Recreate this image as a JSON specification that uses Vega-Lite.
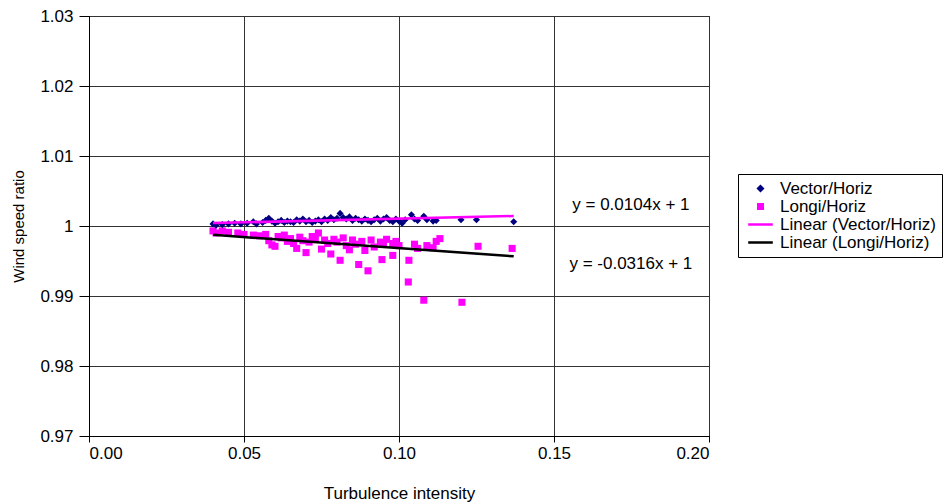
{
  "$schema": "https://vega.github.io/schema/vega-lite/v6.json",
  "width": 620,
  "height": 420,
  "autosize": "none",
  "padding": {"left": 89, "top": 16, "right": 239, "bottom": 68},
  "background": "white",
  "config": {
    "font": "Liberation Sans",
    "view": {"stroke": "black", "strokeWidth": 1},
    "axis": {"labelFont": "Liberation Sans", "titleFont": "Liberation Sans", "labelFontSize": 17, "titleFontSize": 17, "titleFontWeight": "normal", "labelColor": "black", "titleColor": "black", "domainColor": "black", "tickColor": "black", "gridColor": "#333333", "gridWidth": 1, "grid": true}
  },
  "datasets": {
    "points": [
      {"series": "Longi/Horiz", "ti": 0.040, "ratio": 0.9993},
      {"series": "Longi/Horiz", "ti": 0.041, "ratio": 0.9990},
      {"series": "Longi/Horiz", "ti": 0.043, "ratio": 0.9993},
      {"series": "Longi/Horiz", "ti": 0.045, "ratio": 0.9991},
      {"series": "Longi/Horiz", "ti": 0.048, "ratio": 0.9990},
      {"series": "Longi/Horiz", "ti": 0.050, "ratio": 0.9988},
      {"series": "Longi/Horiz", "ti": 0.053, "ratio": 0.9987},
      {"series": "Longi/Horiz", "ti": 0.055, "ratio": 0.9986},
      {"series": "Longi/Horiz", "ti": 0.057, "ratio": 0.9988},
      {"series": "Longi/Horiz", "ti": 0.058, "ratio": 0.9979},
      {"series": "Longi/Horiz", "ti": 0.059, "ratio": 0.9973},
      {"series": "Longi/Horiz", "ti": 0.060, "ratio": 0.9971},
      {"series": "Longi/Horiz", "ti": 0.061, "ratio": 0.9985},
      {"series": "Longi/Horiz", "ti": 0.062, "ratio": 0.9983},
      {"series": "Longi/Horiz", "ti": 0.063, "ratio": 0.9987},
      {"series": "Longi/Horiz", "ti": 0.064, "ratio": 0.9978},
      {"series": "Longi/Horiz", "ti": 0.065, "ratio": 0.9982},
      {"series": "Longi/Horiz", "ti": 0.066, "ratio": 0.9975},
      {"series": "Longi/Horiz", "ti": 0.067, "ratio": 0.9968},
      {"series": "Longi/Horiz", "ti": 0.068, "ratio": 0.9984},
      {"series": "Longi/Horiz", "ti": 0.069, "ratio": 0.9979},
      {"series": "Longi/Horiz", "ti": 0.070, "ratio": 0.9962},
      {"series": "Longi/Horiz", "ti": 0.071, "ratio": 0.9977},
      {"series": "Longi/Horiz", "ti": 0.072, "ratio": 0.9985},
      {"series": "Longi/Horiz", "ti": 0.073, "ratio": 0.9982},
      {"series": "Longi/Horiz", "ti": 0.074, "ratio": 0.9990},
      {"series": "Longi/Horiz", "ti": 0.075, "ratio": 0.9967},
      {"series": "Longi/Horiz", "ti": 0.076, "ratio": 0.9980},
      {"series": "Longi/Horiz", "ti": 0.077, "ratio": 0.9975},
      {"series": "Longi/Horiz", "ti": 0.078, "ratio": 0.9960},
      {"series": "Longi/Horiz", "ti": 0.079, "ratio": 0.9981},
      {"series": "Longi/Horiz", "ti": 0.080, "ratio": 0.9977},
      {"series": "Longi/Horiz", "ti": 0.081, "ratio": 0.9951},
      {"series": "Longi/Horiz", "ti": 0.082, "ratio": 0.9983},
      {"series": "Longi/Horiz", "ti": 0.083, "ratio": 0.9972},
      {"series": "Longi/Horiz", "ti": 0.084, "ratio": 0.9966},
      {"series": "Longi/Horiz", "ti": 0.085, "ratio": 0.9980},
      {"series": "Longi/Horiz", "ti": 0.086, "ratio": 0.9974},
      {"series": "Longi/Horiz", "ti": 0.087, "ratio": 0.9945},
      {"series": "Longi/Horiz", "ti": 0.088, "ratio": 0.9978},
      {"series": "Longi/Horiz", "ti": 0.089, "ratio": 0.9965},
      {"series": "Longi/Horiz", "ti": 0.090, "ratio": 0.9936},
      {"series": "Longi/Horiz", "ti": 0.091, "ratio": 0.9980},
      {"series": "Longi/Horiz", "ti": 0.092, "ratio": 0.9970},
      {"series": "Longi/Horiz", "ti": 0.0945, "ratio": 0.9952},
      {"series": "Longi/Horiz", "ti": 0.094, "ratio": 0.9977},
      {"series": "Longi/Horiz", "ti": 0.095, "ratio": 0.9974},
      {"series": "Longi/Horiz", "ti": 0.096, "ratio": 0.9981},
      {"series": "Longi/Horiz", "ti": 0.098, "ratio": 0.9958},
      {"series": "Longi/Horiz", "ti": 0.098, "ratio": 0.9975},
      {"series": "Longi/Horiz", "ti": 0.099, "ratio": 0.9978},
      {"series": "Longi/Horiz", "ti": 0.100, "ratio": 0.9972},
      {"series": "Longi/Horiz", "ti": 0.1032, "ratio": 0.9951},
      {"series": "Longi/Horiz", "ti": 0.103, "ratio": 0.9920},
      {"series": "Longi/Horiz", "ti": 0.105, "ratio": 0.9974},
      {"series": "Longi/Horiz", "ti": 0.106, "ratio": 0.9968},
      {"series": "Longi/Horiz", "ti": 0.108, "ratio": 0.9894},
      {"series": "Longi/Horiz", "ti": 0.109, "ratio": 0.9972},
      {"series": "Longi/Horiz", "ti": 0.111, "ratio": 0.9969},
      {"series": "Longi/Horiz", "ti": 0.112, "ratio": 0.9978},
      {"series": "Longi/Horiz", "ti": 0.1132, "ratio": 0.9982},
      {"series": "Longi/Horiz", "ti": 0.1203, "ratio": 0.9891},
      {"series": "Longi/Horiz", "ti": 0.1255, "ratio": 0.9971},
      {"series": "Longi/Horiz", "ti": 0.1365, "ratio": 0.9968},
      {"series": "Vector/Horiz", "ti": 0.040, "ratio": 1.0003},
      {"series": "Vector/Horiz", "ti": 0.041, "ratio": 1.0001},
      {"series": "Vector/Horiz", "ti": 0.043, "ratio": 1.0002},
      {"series": "Vector/Horiz", "ti": 0.045, "ratio": 1.0003},
      {"series": "Vector/Horiz", "ti": 0.047, "ratio": 1.0004},
      {"series": "Vector/Horiz", "ti": 0.049, "ratio": 1.0003},
      {"series": "Vector/Horiz", "ti": 0.051, "ratio": 1.0004},
      {"series": "Vector/Horiz", "ti": 0.053, "ratio": 1.0006},
      {"series": "Vector/Horiz", "ti": 0.054, "ratio": 1.0003},
      {"series": "Vector/Horiz", "ti": 0.056, "ratio": 1.0005},
      {"series": "Vector/Horiz", "ti": 0.057, "ratio": 1.0008},
      {"series": "Vector/Horiz", "ti": 0.058, "ratio": 1.0011},
      {"series": "Vector/Horiz", "ti": 0.059, "ratio": 1.0007},
      {"series": "Vector/Horiz", "ti": 0.060, "ratio": 1.0004},
      {"series": "Vector/Horiz", "ti": 0.061, "ratio": 1.0006},
      {"series": "Vector/Horiz", "ti": 0.062, "ratio": 1.0008},
      {"series": "Vector/Horiz", "ti": 0.063, "ratio": 1.0005},
      {"series": "Vector/Horiz", "ti": 0.064, "ratio": 1.0007},
      {"series": "Vector/Horiz", "ti": 0.065, "ratio": 1.0006},
      {"series": "Vector/Horiz", "ti": 0.066, "ratio": 1.0005},
      {"series": "Vector/Horiz", "ti": 0.067, "ratio": 1.0009},
      {"series": "Vector/Horiz", "ti": 0.068, "ratio": 1.0007},
      {"series": "Vector/Horiz", "ti": 0.069, "ratio": 1.0010},
      {"series": "Vector/Horiz", "ti": 0.070, "ratio": 1.0006},
      {"series": "Vector/Horiz", "ti": 0.071, "ratio": 1.0008},
      {"series": "Vector/Horiz", "ti": 0.072, "ratio": 1.0005},
      {"series": "Vector/Horiz", "ti": 0.073, "ratio": 1.0007},
      {"series": "Vector/Horiz", "ti": 0.074, "ratio": 1.0009},
      {"series": "Vector/Horiz", "ti": 0.075, "ratio": 1.0006},
      {"series": "Vector/Horiz", "ti": 0.076, "ratio": 1.0010},
      {"series": "Vector/Horiz", "ti": 0.077, "ratio": 1.0008},
      {"series": "Vector/Horiz", "ti": 0.078, "ratio": 1.0012},
      {"series": "Vector/Horiz", "ti": 0.079, "ratio": 1.0009},
      {"series": "Vector/Horiz", "ti": 0.080, "ratio": 1.0011},
      {"series": "Vector/Horiz", "ti": 0.081, "ratio": 1.0018},
      {"series": "Vector/Horiz", "ti": 0.082, "ratio": 1.0012},
      {"series": "Vector/Horiz", "ti": 0.083, "ratio": 1.0010},
      {"series": "Vector/Horiz", "ti": 0.084, "ratio": 1.0013},
      {"series": "Vector/Horiz", "ti": 0.085, "ratio": 1.0008},
      {"series": "Vector/Horiz", "ti": 0.086, "ratio": 1.0011},
      {"series": "Vector/Horiz", "ti": 0.087, "ratio": 1.0009},
      {"series": "Vector/Horiz", "ti": 0.088, "ratio": 1.0007},
      {"series": "Vector/Horiz", "ti": 0.089, "ratio": 1.0010},
      {"series": "Vector/Horiz", "ti": 0.090, "ratio": 1.0008},
      {"series": "Vector/Horiz", "ti": 0.091, "ratio": 1.0006},
      {"series": "Vector/Horiz", "ti": 0.092, "ratio": 1.0009},
      {"series": "Vector/Horiz", "ti": 0.093, "ratio": 1.0011},
      {"series": "Vector/Horiz", "ti": 0.094, "ratio": 1.0007},
      {"series": "Vector/Horiz", "ti": 0.095, "ratio": 1.0010},
      {"series": "Vector/Horiz", "ti": 0.096, "ratio": 1.0012},
      {"series": "Vector/Horiz", "ti": 0.097, "ratio": 1.0008},
      {"series": "Vector/Horiz", "ti": 0.098, "ratio": 1.0006},
      {"series": "Vector/Horiz", "ti": 0.099, "ratio": 1.0010},
      {"series": "Vector/Horiz", "ti": 0.100, "ratio": 1.0007},
      {"series": "Vector/Horiz", "ti": 0.101, "ratio": 1.0004},
      {"series": "Vector/Horiz", "ti": 0.102, "ratio": 1.0009},
      {"series": "Vector/Horiz", "ti": 0.104, "ratio": 1.0016},
      {"series": "Vector/Horiz", "ti": 0.105, "ratio": 1.0010},
      {"series": "Vector/Horiz", "ti": 0.106, "ratio": 1.0008},
      {"series": "Vector/Horiz", "ti": 0.108, "ratio": 1.0014},
      {"series": "Vector/Horiz", "ti": 0.109, "ratio": 1.0009},
      {"series": "Vector/Horiz", "ti": 0.111, "ratio": 1.0007},
      {"series": "Vector/Horiz", "ti": 0.112, "ratio": 1.0008},
      {"series": "Vector/Horiz", "ti": 0.120, "ratio": 1.0009},
      {"series": "Vector/Horiz", "ti": 0.125, "ratio": 1.0009},
      {"series": "Vector/Horiz", "ti": 0.137, "ratio": 1.0006}
    ],
    "lines": [
      {"series": "Linear (Vector/Horiz)", "ti": 0.040, "ratio": 1.000416},
      {"series": "Linear (Vector/Horiz)", "ti": 0.137, "ratio": 1.001425},
      {"series": "Linear (Longi/Horiz)", "ti": 0.040, "ratio": 0.998736},
      {"series": "Linear (Longi/Horiz)", "ti": 0.137, "ratio": 0.995671}
    ],
    "notes": [
      {"label": "y = 0.0104x + 1", "ti": 0.1748, "ratio": 1.00307},
      {"label": "y = -0.0316x + 1", "ti": 0.1748, "ratio": 0.99464}
    ]
  },
  "encoding": {
    "x": {"field": "ti", "type": "quantitative", "scale": {"domain": [0, 0.2], "nice": false, "zero": false},
      "axis": {"title": "Turbulence intensity", "values": [0, 0.05, 0.1, 0.15, 0.2], "format": ".2f", "tickSize": 6, "labelPadding": 3, "titlePadding": 24}},
    "y": {"field": "ratio", "type": "quantitative", "scale": {"domain": [0.97, 1.03], "nice": false, "zero": false},
      "axis": {"title": "Wind speed ratio", "titleFontSize": 15, "values": [0.97, 0.98, 0.99, 1, 1.01, 1.02, 1.03], "format": "~g", "tickSize": 10, "labelPadding": 6, "titlePadding": 13}}
  },
  "layer": [
    {
      "data": {"name": "points"},
      "mark": {"type": "point", "filled": true, "size": 50, "opacity": 1},
      "encoding": {
        "color": {"field": "series", "type": "nominal",
          "scale": {"domain": ["Vector/Horiz", "Longi/Horiz", "Linear (Vector/Horiz)", "Linear (Longi/Horiz)"], "range": ["#000080", "#FF00FF", "#FF00FF", "#000000"]},
          "legend": {"title": null, "orient": "none", "legendX": 649, "legendY": 158, "strokeColor": "black", "fillColor": "white", "padding": 6, "labelFontSize": 17, "labelFont": "Liberation Sans", "labelColor": "black", "symbolSize": 20, "symbolStrokeWidth": 2.5, "rowPadding": 0, "symbolOffset": 8, "labelOffset": 11,
            "encode": {"symbols": {"update": {
              "stroke": {"signal": "scale('color', datum.value)"},
              "strokeWidth": {"signal": "indexof(datum.value, 'Linear') == 0 ? 2.5 : 1"},
              "opacity": {"value": 1}
            }}}}},
        "shape": {"field": "series", "type": "nominal",
          "scale": {"domain": ["Vector/Horiz", "Longi/Horiz", "Linear (Vector/Horiz)", "Linear (Longi/Horiz)"], "range": ["diamond", "square", "M-5.5,0H5.5", "M-5.5,0H5.5"]},
          "legend": {"title": null}}
      }
    },
    {
      "data": {"name": "lines"},
      "mark": {"type": "line", "strokeWidth": 2.5},
      "encoding": {
        "color": {"field": "series", "type": "nominal"},
        "detail": {"field": "series"}
      }
    },
    {
      "data": {"name": "notes"},
      "mark": {"type": "text", "fontSize": 17, "font": "Liberation Sans", "color": "black", "align": "center", "baseline": "middle"},
      "encoding": {"text": {"field": "label"}}
    }
  ]
}
